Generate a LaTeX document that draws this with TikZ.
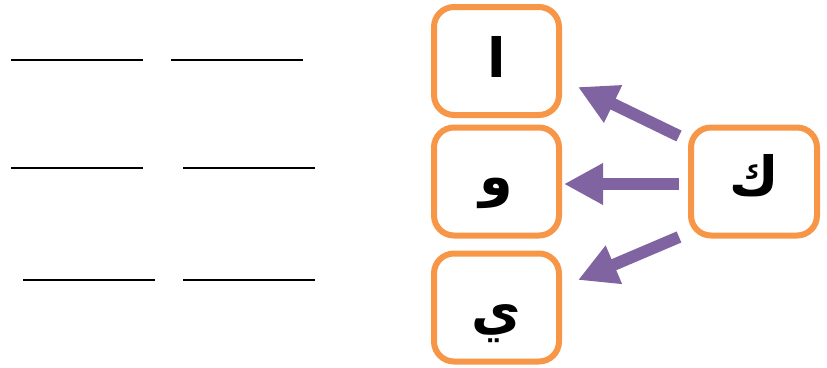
\documentclass[tikz,border=0pt]{standalone}
\usepackage{fontspec}
\newfontfamily\arabicfont[Script=Arabic]{DejaVu Sans}
\TeXXeTstate=1
\usetikzlibrary{arrows.meta}
\definecolor{boxorange}{HTML}{F79646}
\definecolor{arrpurple}{HTML}{8064A2}
\newcommand{\glyphat}[2]{\raisebox{#1}[0pt][0pt]{\beginR #2\endR}}
\begin{document}
\begin{tikzpicture}[x=1pt,y=-1pt,
  letterbox/.style={draw=boxorange,line width=6pt,rounded corners=20pt,
    minimum width=125pt,minimum height=108pt,inner sep=0pt,
    text height=0pt,text depth=0pt,
    font=\arabicfont\bfseries\fontsize{54}{58}\selectfont},
  bigarrow/.style={draw=arrpurple,line width=12pt,
    -{Triangle[width=39pt,length=39pt]}},
  blank/.style={line width=2.5pt,black}]
\useasboundingbox (0,0) rectangle (827,367);
% writing lines
\coordinate (l1a) at (11,60);  \coordinate (l1b) at (143,60);
\coordinate (l2a) at (171,60); \coordinate (l2b) at (303,60);
\coordinate (l3a) at (11,168); \coordinate (l3b) at (143,168);
\coordinate (l4a) at (183,168);\coordinate (l4b) at (315,168);
\coordinate (l5a) at (23,280); \coordinate (l5b) at (155,280);
\coordinate (l6a) at (183,280);\coordinate (l6b) at (315,280);
\draw[blank] (l1a) -- (l1b);
\draw[blank] (l2a) -- (l2b);
\draw[blank] (l3a) -- (l3b);
\draw[blank] (l4a) -- (l4b);
\draw[blank] (l5a) -- (l5b);
\draw[blank] (l6a) -- (l6b);
% boxes
\node[letterbox] (alif) at (496.5,61) {\glyphat{-16pt}{ا}};
\node[letterbox] (waw) at (496.5,181.5) {\glyphat{-14pt}{و}};
\node[letterbox] (ya) at (496.5,307.5) {\glyphat{-22pt}{ي}};
\node[letterbox,minimum width=126pt] (kaf) at (754,181.5) {\glyphat{-13.5pt}{ك}};
% arrows
\coordinate (t1) at (679,136); \coordinate (h1) at (578,87);
\coordinate (t2) at (679,184); \coordinate (h2) at (564,184);
\coordinate (t3) at (679,237); \coordinate (h3) at (578,280);
\draw[bigarrow] (t1) -- (h1);
\draw[bigarrow] (t2) -- (h2);
\draw[bigarrow] (t3) -- (h3);
\end{tikzpicture}
\end{document}
